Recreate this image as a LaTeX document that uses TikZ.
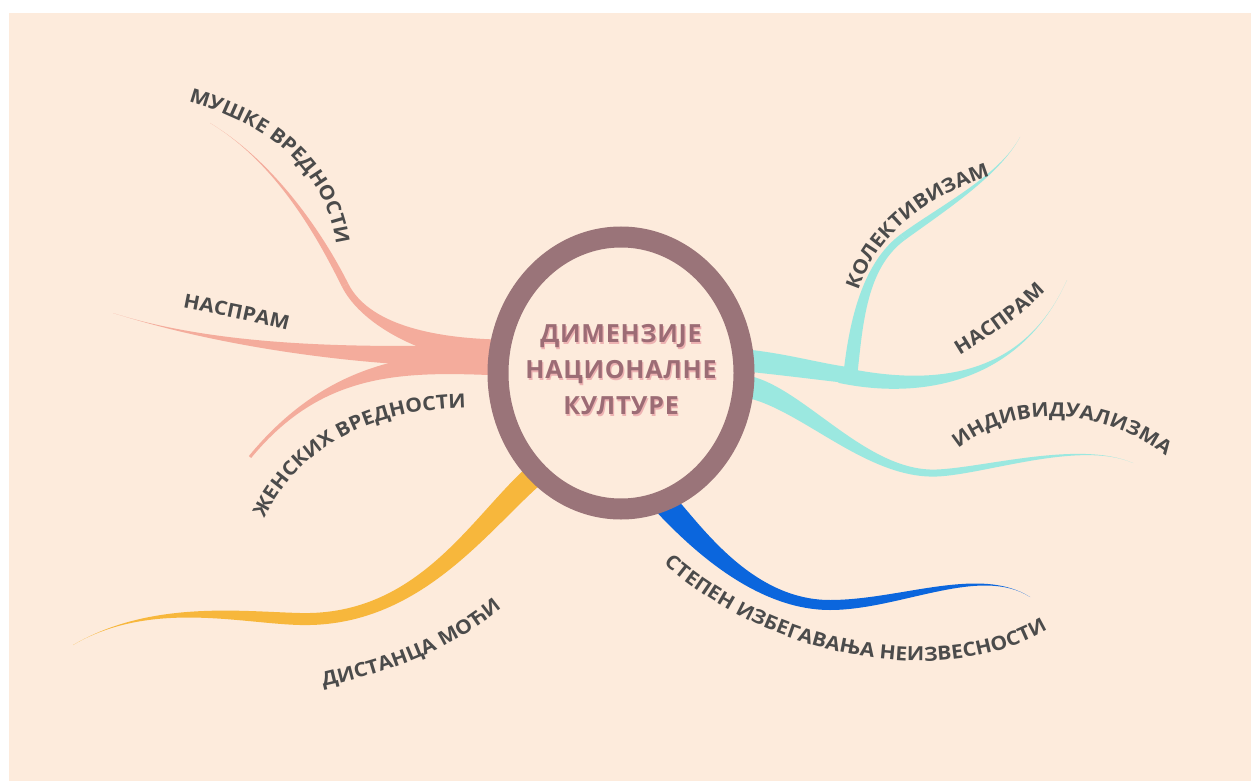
\documentclass[tikz,border=0pt]{standalone}
\usepackage{fontspec}
\usepackage{xcolor}
\usepackage{tikz}
\usetikzlibrary{calc,shapes.geometric,decorations.text}
\newfontfamily\labelfont[FakeStretch=1.08]{Open Sans}
\newfontfamily\titlefont[LetterSpace=3]{Open Sans}
\newcommand\labfont{\labelfont\bfseries\fontsize{19.5}{21}\selectfont}
\definecolor{paper}{HTML}{FDEBDC}
\definecolor{ring}{HTML}{9A7479}
\definecolor{titlecol}{HTML}{9C6C75}
\definecolor{shade}{HTML}{EDB2B2}
\definecolor{ink}{HTML}{4B4B4B}
\definecolor{salmon}{HTML}{F4AC9C}
\definecolor{aqua}{HTML}{9BE8E0}
\definecolor{royal}{HTML}{0B66DD}
\definecolor{amber}{HTML}{F7B73C}
\pgfdeclarelayer{paper}
\pgfdeclarelayer{limbs}
\pgfsetlayers{paper,limbs,main}
\tikzset{
  hub/.style={ellipse, draw=ring, fill=paper, line width=21pt,
    minimum width=246pt, minimum height=272pt, inner sep=0pt, outer sep=0pt},
  titletext/.style={text=titlecol, font=\titlefont\bfseries\fontsize{25}{36}\selectfont, align=center},
  titleshade/.style={titletext, text=shade},
  lab/.style={decorate, decoration={text along path, text align=center, text color=ink}},
}

\begin{document}
\begin{tikzpicture}[x=1pt, y=-1pt]
  \useasboundingbox (0,0) rectangle (1251,781);
  % colour, start, control, control, end, half width at start, at end
  \def\limb#1#2#3#4#5#6#7{%
    \coordinate (p1) at ($(#2)!#6!90:(#3)$);
    \coordinate (q1) at ($(#2)!#6!-90:(#3)$);
    \coordinate (p4) at ($(#5)!#7!-90:(#4)$);
    \coordinate (q4) at ($(#5)!#7!90:(#4)$);
    \fill[#1] (p1) .. controls ($(#3)+(p1)-(#2)$) and ($(#4)+(p4)-(#5)$) .. (p4)
      -- (q4) .. controls ($(#4)+(q4)-(#5)$) and ($(#3)+(q1)-(#2)$) .. (q1) -- cycle;
  }

  \begin{pgfonlayer}{paper}
    \fill[white] (0,0) rectangle (1251,781);
    \fill[paper] (9,13) rectangle (1251,781);
  \end{pgfonlayer}

  \node[hub] (hub) at (621,373) {};
  \node[titleshade] (shade) at ($(hub)+(1.2,-1.8)$) {ДИМЕНЗИЈЕ\\НАЦИОНАЛНЕ\\КУЛТУРЕ};
  \node[titletext] (title) at ($(hub)+(0,-3)$) {ДИМЕНЗИЈЕ\\НАЦИОНАЛНЕ\\КУЛТУРЕ};

  \begin{pgfonlayer}{limbs}
    % masculine / feminine
    \limb{salmon}{hub.170}{430,350}{365,325}{345,285}{12pt}{3.5pt}
    \limb{salmon}{345,285}{325,245}{280,165}{210,123}{3.5pt}{0pt}
    \limb{salmon}{hub.172}{380,358}{230,350}{113,313}{11pt}{0pt}
    \limb{salmon}{hub.176}{400,360}{320,372}{250,457}{11pt}{1.5pt}
    % collectivism / individualism
    \limb{aqua}{hub.6}{790,365}{820,372}{855,376}{11pt}{8pt}
    \limb{aqua}{850,378}{856,320}{865,265}{903,237}{7pt}{3.5pt}
    \limb{aqua}{903,237}{943,208}{1000,175}{1020,137}{3.5pt}{0pt}
    \limb{aqua}{840,375}{920,392}{1020,385}{1067,280}{8pt}{0pt}
    \limb{aqua}{hub.-6}{800,395}{865,476}{937,473}{11pt}{3.5pt}
    \limb{aqua}{937,473}{985,471}{1080,440}{1133,463}{3.5pt}{0pt}
    % uncertainty avoidance
    \limb{royal}{hub.-72}{690,530}{750,605}{830,605}{12pt}{5pt}
    \limb{royal}{830,605}{900,605}{980,565}{1030,597}{5pt}{0pt}
    % power distance
    \limb{amber}{hub.230}{480,522}{420,622}{300,619}{11pt}{6pt}
    \limb{amber}{300,619}{240,617.5}{150,600}{73,645}{6pt}{0pt}
  \end{pgfonlayer}

  % labels along the branches
  \path[lab, decoration={text={|\labfont|МУШКЕ ВРЕДНОСТИ}}]
    (166,96) .. controls (265,118) and (336,170) .. (338,268);
  \path[lab, decoration={text={|\labfont|НАСПРАМ}}]
    (160,303) .. controls (205,312) and (260,322) .. (310,336);
  \path[lab, decoration={text={|\labfont|ЖЕНСКИХ ВРЕДНОСТИ}}]
    (255,541) .. controls (287,450) and (370,403) .. (490,408);
  \path[lab, decoration={text={|\labfont|КОЛЕКТИВИЗАМ}}]
    (853,312) .. controls (866,240) and (925,192) .. (1011,170);
  \path[lab, decoration={text={|\labfont|НАСПРАМ}}]
    (935,370) .. controls (980,343) and (1025,318) .. (1065,270);
  \path[lab, decoration={text={|\labfont|ИНДИВИДУАЛИЗМА}}]
    (945,462) .. controls (995,403) and (1105,398) .. (1180,468);
  \path[lab, decoration={text={|\labfont|ДИСТАНЦА МОЋИ}}]
    (297,693) .. controls (377,675) and (452,657) .. (522,590);
  \path[lab, decoration={text={|\labfont|СТЕПЕН ИЗБЕГАВАЊА НЕИЗВЕСНОСТИ}}]
    (630,530) .. controls (745,665) and (980,708) .. (1085,600);
\end{tikzpicture}
\end{document}
